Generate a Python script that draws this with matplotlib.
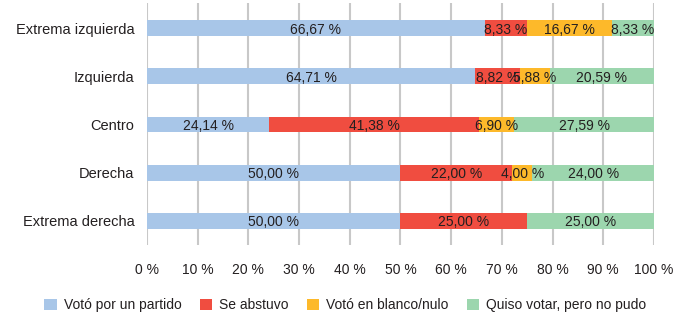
import matplotlib.pyplot as plt
import numpy as np

plt.rcParams['font.family'] = ['Liberation Sans', 'DejaVu Sans']

categories = ['Extrema izquierda', 'Izquierda', 'Centro', 'Derecha', 'Extrema derecha']
series_names = ['Votó por un partido', 'Se abstuvo', 'Votó en blanco/nulo', 'Quiso votar, pero no pudo']
partido = [66.67, 64.71, 24.14, 50.00, 50.00]
abstuvo = [8.33, 8.82, 41.38, 22.00, 25.00]
blanco = [16.67, 5.88, 6.90, 4.00, 0.00]
no_pudo = [8.33, 20.59, 27.59, 24.00, 25.00]
colors = ['#a8c6e8', '#f04d40', '#fdb92a', '#9cd6ae']

fig = plt.figure(figsize=(6.77, 3.32), dpi=100)
ax = fig.add_axes([0.217, 0.262, 0.749, 0.729])

fs = 10
y = np.arange(len(categories))
left = np.zeros(len(categories))
for name, vals, c in zip(series_names, [partido, abstuvo, blanco, no_pudo], colors):
    vals = np.array(vals)
    ax.barh(y, vals, left=left, height=0.33, color=c, label=name, zorder=3)
    for yi, l, v in zip(y, left, vals):
        if v > 0:
            ax.text(l + v / 2, yi + 0.03, f'{v:.2f} %'.replace('.', ','),
                    ha='center', va='center', fontsize=fs, color='#231f20', zorder=4)
    left += vals

ax.set_xlim(0, 100)
ax.set_ylim(4.5, -0.52)
ax.set_yticks(y)
ax.set_yticklabels(categories, fontsize=fs + 0.5, color='#231f20')
ax.set_xticks(np.arange(0, 101, 10))
ax.set_xticklabels([f'{t} %' for t in range(0, 101, 10)], fontsize=fs, color='#231f20')
ax.tick_params(length=0, pad=9)
ax.tick_params(axis='x', pad=13)
ax.grid(axis='x', color='#c8c8c8', linewidth=1.5, zorder=0)
for s in ax.spines.values():
    s.set_visible(False)

fig.legend(loc='center', bbox_to_anchor=(0.51, 0.08), ncol=4, frameon=False,
           fontsize=fs, handlelength=0.9, handleheight=0.9, handletextpad=0.5,
           columnspacing=1.3, labelcolor='#231f20')

plt.savefig('out.png', dpi=100)
